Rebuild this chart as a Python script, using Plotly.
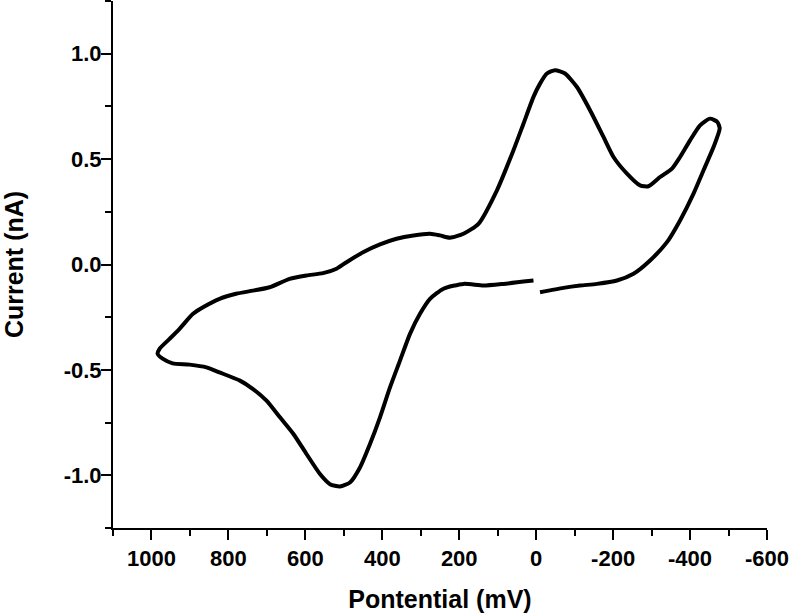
import plotly.graph_objects as go

potential_mV = [
    -10, -71, -114, -158, -210, -253, -296, -340, -374, -409, -435, -461, -477,
    -471, -452, -426, -400, -374, -353, -322, -292, -270, -236, -201, -175, -140,
    -106, -75, -49, -28, -10, 7, 33, 59, 102, 150, 189, 224, 250, 276, 319, 363,
    406, 450, 493, 519, 554, 597, 641, 693, 736, 780, 823, 866, 892, 927, 953,
    979, 984, 970, 945, 901, 857, 823, 770, 736, 701, 666, 631, 597, 562, 536,
    510, 484, 458, 432, 406, 380, 354, 328, 302, 276, 241, 189, 137, 85, 33, 7,
]
current_nA = [
    -0.132, -0.111, -0.100, -0.092, -0.076, -0.044, 0.019, 0.106, 0.209, 0.336,
    0.447, 0.557, 0.645, 0.676, 0.692, 0.660, 0.589, 0.510, 0.455, 0.415, 0.371,
    0.375, 0.431, 0.510, 0.605, 0.732, 0.842, 0.906, 0.922, 0.906, 0.858, 0.795,
    0.668, 0.542, 0.352, 0.193, 0.146, 0.127, 0.138, 0.146, 0.138, 0.122, 0.095,
    0.058, 0.011, -0.020, -0.041, -0.052, -0.068, -0.108, -0.124, -0.139, -0.163,
    -0.203, -0.234, -0.305, -0.353, -0.400, -0.424, -0.448, -0.469, -0.475,
    -0.488, -0.512, -0.551, -0.591, -0.646, -0.725, -0.804, -0.899, -0.994,
    -1.042, -1.053, -1.034, -0.963, -0.852, -0.725, -0.583, -0.456, -0.329,
    -0.234, -0.163, -0.115, -0.092, -0.100, -0.092, -0.081, -0.076,
]

x_tickvals = [1000, 800, 600, 400, 200, 0, -200, -400, -600]
x_ticktext = ["1000", "800", "600", "400", "200", "0", "-200", "-400", "-600"]
y_tickvals = [-1.0, -0.5, 0.0, 0.5, 1.0]
y_ticktext = ["-1.0", "-0.5", "0.0", "0.5", "1.0"]

FONT = "Liberation Sans, Arial, sans-serif"

fig = go.Figure()
fig.add_trace(go.Scatter(
    x=potential_mV, y=current_nA, mode="lines",
    line=dict(color="black", width=4, shape="spline", smoothing=0.6),
    showlegend=False, hoverinfo="skip",
))

axis_common = dict(
    showgrid=False, zeroline=False, showline=True, linecolor="black",
    linewidth=2, ticks="outside", ticklen=10, tickwidth=2, tickcolor="black",
    tickfont=dict(family=FONT, size=22, color="black", weight="bold"),
    mirror=False, automargin=False,
)

fig.update_xaxes(
    **axis_common,
    range=[1100, -600], tickvals=x_tickvals, ticktext=x_ticktext,
    minor=dict(dtick=100, tick0=0, ticks="outside", ticklen=6, tickwidth=2,
               tickcolor="black", showgrid=False),
    title=dict(text="Pontential (mV)", standoff=20,
               font=dict(family=FONT, size=25, color="black", weight="bold")),
)
fig.update_yaxes(
    **axis_common,
    range=[-1.25, 1.25], tickvals=y_tickvals, ticktext=y_ticktext,
    ticklabelstandoff=-5,
    minor=dict(dtick=0.25, tick0=0, ticks="outside", ticklen=6, tickwidth=2,
               tickcolor="black", showgrid=False),
    title=dict(text="Current (nA)", standoff=35,
               font=dict(family=FONT, size=25, color="black", weight="bold")),
)

fig.update_layout(
    width=790, height=615,
    margin=dict(l=113, r=23, t=1, b=87),
    paper_bgcolor="white", plot_bgcolor="white",
)

fig.write_html(
    "out.html",
    config={"displayModeBar": False},
    post_script="document.body.style.margin='0';document.body.style.overflow='hidden';",
)
